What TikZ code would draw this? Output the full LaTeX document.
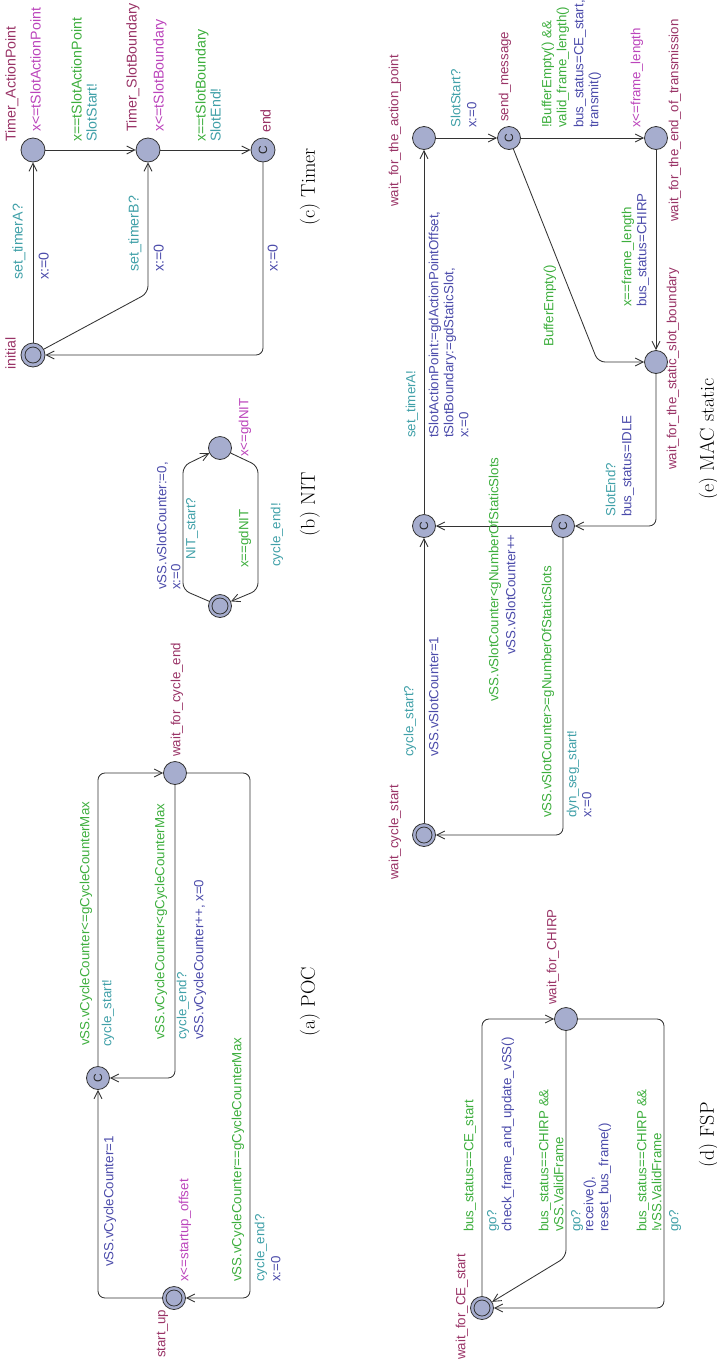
\documentclass[tikz,border=0pt]{standalone}
\usepackage{fontspec}
\newfontfamily\uf{Liberation Sans}
\usetikzlibrary{arrows.meta}
\definecolor{cname}{HTML}{993366}
\definecolor{cinv}{HTML}{BB44BB}
\definecolor{cgrd}{HTML}{3DAE3D}
\definecolor{csyn}{HTML}{40A0A8}
\definecolor{cupd}{HTML}{4B4BAA}
\definecolor{cloc}{HTML}{A6ADCE}
\definecolor{cln}{HTML}{333333}
\begin{document}
\begin{tikzpicture}[x=1pt,y=1pt,
  loc/.style={circle, draw=cln, fill=cloc, line width=0.8pt, minimum size=23pt, inner sep=0pt},
  tloc/.style={loc, minimum size=24pt},
  initloc/.style={path picture={\draw[cln, line width=0.8pt] (path picture bounding box.center) circle (8pt);}},
  comm/.style={rotate=90, font=\uf\fontsize{12}{12}\selectfont, text=black!85},
  conn/.style={draw=cln, line width=0.85pt, rounded corners=7pt, -{Straight Barb[length=8pt,width=8pt]}},
  lab/.style={rotate=90, anchor=west, inner sep=0pt, text height=9.6pt, text depth=2.8pt, font=\uf\fontsize{13.3}{15}\selectfont},
  nm/.style={lab, text=cname},
  iv/.style={lab, text=cinv},
  gd/.style={lab, text=cgrd},
  sy/.style={lab, text=csyn},
  upd/.style={lab, text=cupd},
  capt/.style={rotate=90, inner sep=0pt, font=\fontsize{20}{24}\selectfont}]
\useasboundingbox (0,0) rectangle (716,-1366);

% ---------------- (c) Timer
\begin{scope}[lab/.append style={font=\uf\fontsize{14.2}{16}\selectfont, text height=10.2pt, text depth=3pt}]
\node[tloc] (tap) at (33,-150) {};
\node[tloc] (tsb) at (148,-150) {};
\node[tloc,comm] (tend) at (263,-150) {C};
\node[tloc,initloc] (tinit) at (33,-355) {};
\draw[conn] (tinit) -- (tap);
\draw[conn] (tinit) -- (148,-293) -- (tsb);
\draw[conn] (tap) -- (tsb);
\draw[conn] (tsb) -- (tend);
\draw[conn] (tend) |- (tinit);
\node[nm] at (12,-142) {Timer\_ActionPoint};
\node[iv] at (37,-132) {x<=tSlotActionPoint};
\node[nm] at (133,-132) {Timer\_SlotBoundary};
\node[iv] at (160,-132) {x<=tSlotBoundary};
\node[nm] at (267,-133) {end};
\node[nm] at (12,-370) {initial};
\node[gd] at (78,-142) {x==tSlotActionPoint};
\node[sy] at (93,-142) {SlotStart!};
\node[gd] at (202,-142) {x==tSlotBoundary};
\node[sy] at (217,-142) {SlotEnd!};
\node[sy] at (19,-280) {set\_timerA?};
\node[upd] at (45,-280) {x:=0};
\node[sy] at (135,-272) {set\_timerB?};
\node[upd] at (160,-272) {x:=0};
\node[upd] at (274,-272) {x:=0};
\end{scope}
\node[capt] at (310,-187) {(c) Timer};

% ---------------- (b) NIT
\node[loc] (nt) at (220,-448) {};
\node[loc,initloc] (nb) at (220,-606) {};
\draw[conn] (nb) -- (183,-590) -- (183,-466) -- (nt);
\draw[conn] (nt) -- (258,-466) -- (258,-590) -- (nb);
\node[upd] at (163,-590) {vSS.vSlotCounter:=0,};
\node[upd] at (177,-590) {x:=0};
\node[sy] at (192,-560) {NIT\_start?};
\node[gd] at (245,-568) {x==gdNIT};
\node[sy] at (277,-567) {cycle\_end!};
\node[iv] at (245,-457) {x<=gdNIT};
\node[capt] at (310,-504) {(b) NIT};

% ---------------- (a) POC
\node[loc,comm] (pc) at (98,-1078) {C};
\node[loc] (pw) at (175,-773) {};
\node[loc,initloc] (ps) at (174,-1298) {};
\draw[conn] (ps) -| (pc);
\draw[conn] (pc) |- (pw);
\draw[conn] (pw) |- (pc);
\draw[conn] (pw) -- (250,-773) |- (ps);
\node[nm] at (177,-757) {wait\_for\_cycle\_end};
\node[nm] at (162,-1358) {start\_up};
\node[iv] at (185,-1282) {x<=startup\_offset};
\node[upd] at (110,-1267) {vSS.vCycleCounter=1};
\node[gd] at (86,-1046) {vSS.vCycleCounter<=gCycleCounterMax};
\node[sy] at (108,-1047) {cycle\_start!};
\node[gd] at (161,-1040) {vSS.vCycleCounter<gCycleCounterMax};
\node[sy] at (183,-1040) {cycle\_end?};
\node[upd] at (200,-1040) {vSS.vCycleCounter++, x=0};
\node[gd] at (238,-1282) {vSS.vCycleCounter==gCycleCounterMax};
\node[sy] at (261,-1282) {cycle\_end?};
\node[upd] at (277,-1282) {x:=0};
\node[capt] at (310,-1002) {(a) POC};

% ---------------- (e) MAC static
\node[loc] (mwap) at (424,-138) {};
\node[loc,comm] (msm) at (509,-138) {C};
\node[loc] (mwet) at (656,-138) {};
\node[loc] (mwsb) at (656,-362) {};
\node[loc,comm] (mc1) at (424,-526) {C};
\node[loc,comm] (mc2) at (563,-526) {C};
\node[loc,initloc] (mwcs) at (424,-835) {};
\draw[conn] (mwcs) -- (mc1);
\draw[conn] (mc1) -- (mwap);
\draw[conn] (mwap) -- (msm);
\draw[conn] (msm) -- (mwet);
\draw[conn] (msm) -- (598,-362) -- (mwsb);
\draw[conn] (mwet) -- (mwsb);
\draw[conn] (mwsb) |- (mc2);
\draw[conn] (mc2) -- (mc1);
\draw[conn] (mc2) |- (mwcs);
\node[nm] at (395,-207) {wait\_for\_the\_action\_point};
\node[nm] at (505,-122) {send\_message};
\node[nm] at (675,-222) {wait\_for\_the\_end\_of\_transmission};
\node[nm] at (673,-470) {wait\_for\_the\_static\_slot\_boundary};
\node[nm] at (395,-880) {wait\_cycle\_start};
\node[iv] at (637,-128) {x<=frame\_length};
\node[sy] at (457,-128) {SlotStart?};
\node[upd] at (473,-128) {x:=0};
\node[gd] at (548,-128) {!BufferEmpty() \&\&};
\node[gd] at (563,-128) {valid\_frame\_length()};
\node[upd] at (580,-128) {bus\_status=CE\_start,};
\node[upd] at (595,-128) {transmit()};
\node[gd] at (550,-347) {BufferEmpty()};
\node[gd] at (628,-307) {x==frame\_length};
\node[upd] at (643,-307) {bus\_status=CHIRP};
\node[sy] at (612,-517) {SlotEnd?};
\node[upd] at (628,-517) {bus\_status=IDLE};
\node[gd] at (495,-702) {vSS.vSlotCounter<gNumberOfStaticSlots};
\node[upd] at (512,-655) {vSS.vSlotCounter++};
\node[gd] at (548,-818) {vSS.vSlotCounter>=gNumberOfStaticSlots};
\node[sy] at (573,-818) {dyn\_seg\_start!};
\node[upd] at (588,-818) {x:=0};
\node[sy] at (410,-757) {cycle\_start?};
\node[upd] at (435,-757) {vSS.vSlotCounter=1};
\node[sy] at (412,-438) {set\_timerA!};
\node[upd] at (435,-438) {tSlotActionPoint:=gdActionPointOffset,};
\node[upd] at (450,-438) {tSlotBoundary:=gdStaticSlot,};
\node[upd] at (465,-438) {x:=0};
\node[capt] at (709,-439) {(e) MAC static};

% ---------------- (d) FSP
\node[loc] (fwch) at (566,-1019) {};
\node[loc,initloc] (fwce) at (482,-1308) {};
\draw[conn] (fwce) |- (fwch);
\draw[conn] (fwch) -- (566,-1257) -- (fwce);
\draw[conn] (fwch) -- (664,-1019) |- (fwce);
\node[nm] at (553,-1005) {wait\_for\_CHIRP};
\node[nm] at (462,-1360) {wait\_for\_CE\_start};
\node[gd] at (470,-1232) {bus\_status==CE\_start};
\node[sy] at (493,-1232) {go?};
\node[upd] at (508,-1232) {check\_frame\_and\_update\_vSS()};
\node[gd] at (545,-1232) {bus\_status==CHIRP \&\&};
\node[gd] at (560,-1232) {vSS.ValidFrame};
\node[sy] at (577,-1232) {go?};
\node[upd] at (590,-1232) {receive(),};
\node[upd] at (605,-1232) {reset\_bus\_frame()};
\node[gd] at (643,-1232) {bus\_status==CHIRP \&\&};
\node[gd] at (658,-1232) {!vSS.ValidFrame};
\node[sy] at (675,-1232) {go?};
\node[capt] at (709,-1135) {(d) FSP};
\end{tikzpicture}
\end{document}
